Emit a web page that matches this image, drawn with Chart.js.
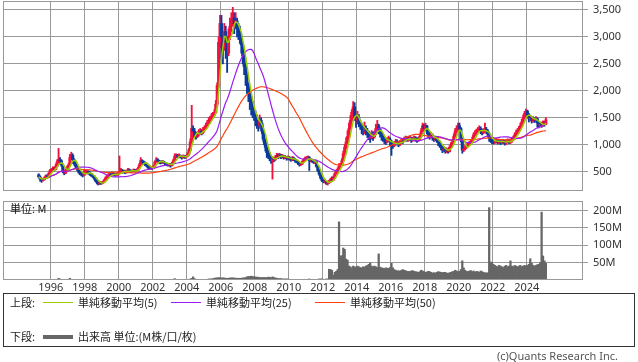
<!DOCTYPE html>
<html><head><meta charset="utf-8">
<script src="https://cdn.jsdelivr.net/npm/chart.js@4.4.1/dist/chart.umd.min.js"></script>
<style>
html,body{margin:0;padding:0;background:#fff;width:638px;height:362px;overflow:hidden;font-family:"Noto Sans CJK JP","Noto Sans",sans-serif;}
canvas{position:absolute;left:0;}
#c1{top:0;}
#c2{top:196px;}
.t{position:absolute;font-size:11px;color:#222;white-space:nowrap;line-height:11px;}
#legend{position:absolute;left:3px;top:293px;width:632px;height:54px;border:1px solid #333;box-sizing:border-box;}
.sw{position:absolute;height:0;width:30px;}
</style></head>
<body>
<canvas id="c1" width="638" height="191"></canvas>
<canvas id="c2" width="638" height="104"></canvas>
<div class="t" style="left:10px;top:203px;color:#111;">単位: M</div>
<div id="legend"></div>
<div class="t" style="left:10px;top:297px;">上段:</div>
<div class="sw" style="left:43px;top:302px;border-top:1px solid #99cc00;"></div>
<div class="t" style="left:78px;top:297px;">単純移動平均(5)</div>
<div class="sw" style="left:171px;top:302px;border-top:1px solid #9a1cf0;"></div>
<div class="t" style="left:206px;top:297px;">単純移動平均(25)</div>
<div class="sw" style="left:315px;top:302px;border-top:1px solid #ff4010;"></div>
<div class="t" style="left:350px;top:297px;">単純移動平均(50)</div>
<div class="t" style="left:10px;top:331px;">下段:</div>
<div class="sw" style="left:43px;top:335px;height:4px;background:#666;"></div>
<div class="t" style="left:78px;top:331px;">出来高 単位:(M株/口/枚)</div>
<div class="t" style="right:20px;top:350px;color:#555;font-family:'Noto Sans',sans-serif;">(c)Quants Research Inc.</div>
<script>
// ---- data (monthly, from Apr 1995) ----
const startYear = 1995, startMonth = 4;
const firstOpen = 440;
const closes = [
 400,360,340,350,380,420,410,460,520,
 530,560,540,600,680,720,700,620,500,470,530,560,
 620,760,800,720,650,600,560,500,470,450,430,470,
 480,500,470,460,430,420,380,330,300,270,290,280,
 300,330,370,400,430,450,440,460,450,430,440,460,
 500,520,490,500,480,510,530,520,500,510,520,510,
 520,560,620,700,680,660,640,630,580,560,570,560,
 600,680,720,700,680,660,690,670,650,640,620,630,
 610,650,700,780,800,780,800,780,760,790,770,780,
 820,900,1050,1300,1250,1200,1150,1200,1230,1250,1220,1280,
 1300,1350,1400,1450,1480,1520,1560,1600,1750,2100,2900,3250,
 3000,2800,3100,2900,2700,3000,3200,3300,3350,3250,3300,3150,
 3100,3000,2850,2650,2450,2300,2100,1950,1800,1700,1600,1550,
 1450,1400,1350,1450,1350,1200,1050,950,850,780,760,700,
 740,720,760,800,780,800,780,790,760,770,740,760,
 740,720,750,730,700,690,660,630,640,680,720,740,
 750,760,700,720,690,680,680,600,520,450,380,330,
 310,320,280,290,310,350,340,380,460,500,540,600,
 620,700,830,950,1050,1150,1300,1450,1600,1700,1500,1450,
 1500,1400,1350,1300,1250,1300,1250,1200,1150,1120,1180,1150,
 1200,1300,1350,1280,1200,1150,1120,1080,1050,1080,1100,1050,
 1000,980,1020,1050,1030,1000,1040,1080,1060,1100,1120,1100,
 1100,1120,1080,1100,1120,1100,1080,1100,1150,1250,1350,1300,
 1350,1250,1180,1150,1170,1130,1100,1120,1080,1050,1000,950,
 900,920,880,900,870,950,1000,1050,1150,1250,1300,1350,
 1300,1100,900,920,950,980,1000,1020,1050,1100,1180,1220,
 1250,1280,1300,1250,1220,1260,1280,1250,1200,1120,1080,1060,
 1050,1070,1080,1050,1060,1040,1070,1060,1030,1050,1070,1060,
 1070,1090,1120,1180,1220,1260,1300,1350,1420,1500,1580,1620,
 1550,1480,1500,1450,1480,1460,1480,1400,1350,1380,1360,1400,
 1380,1460
];
const highs = [
 460,420,370,380,400,440,440,480,540,
 560,590,580,640,720,930,760,720,640,520,560,600,
 650,820,860,830,740,680,620,570,520,490,470,540,
 530,530,520,500,470,450,430,390,340,310,320,310,
 320,350,400,430,460,480,470,490,480,460,470,490,
 790,560,540,530,520,530,560,550,530,530,550,540,
 540,580,650,760,720,700,680,660,640,600,600,590,
 620,700,760,740,710,700,710,700,680,670,650,650,
 650,670,730,830,830,820,830,810,800,810,800,800,
 850,930,1110,1730,1350,1300,1230,1240,1280,1300,1280,1320,
 1350,1400,1450,1500,1530,1580,1600,1650,1820,2150,3000,3400,
 3400,3100,3250,3200,3000,3150,3350,3450,3550,3450,3450,3350,
 3250,3200,3060,2900,2700,2500,2350,2150,2050,1900,1800,1700,
 1630,1550,1450,1550,1500,1400,1250,1100,1000,900,850,800,
 780,760,800,840,830,840,820,820,800,800,780,790,
 780,760,780,770,740,720,700,670,670,700,740,770,
 780,790,780,740,730,710,710,690,610,540,460,400,
 350,350,330,320,340,380,400,420,480,530,570,650,
 650,740,880,1000,1130,1260,1400,1540,1650,1800,1780,1560,
 1620,1560,1450,1400,1350,1420,1350,1300,1250,1220,1260,1240,
 1250,1380,1450,1380,1300,1230,1200,1150,1120,1130,1160,1130,
 1080,1040,1060,1100,1090,1060,1080,1120,1110,1140,1160,1150,
 1140,1160,1140,1140,1160,1150,1130,1140,1200,1300,1400,1380,
 1400,1360,1270,1220,1230,1200,1160,1160,1140,1100,1070,1020,
 970,960,940,940,920,980,1040,1100,1200,1300,1350,1400,
 1400,1320,1120,970,990,1020,1040,1060,1090,1140,1220,1260,
 1290,1320,1350,1330,1280,1300,1400,1320,1280,1230,1150,1110,
 1100,1110,1120,1100,1100,1090,1100,1100,1080,1090,1110,1100,
 1110,1130,1160,1220,1270,1300,1340,1400,1470,1550,1620,1660,
 1640,1580,1540,1520,1520,1500,1520,1500,1420,1420,1420,1440,
 1430,1500
];
const lows = [
 380,320,300,320,340,370,380,400,450,
 490,510,510,530,590,660,640,600,480,440,460,510,
 540,600,720,650,620,570,520,470,440,420,400,420,
 440,460,450,430,410,390,360,310,270,250,260,260,
 270,290,320,360,390,420,420,430,430,410,420,430,
 450,480,470,470,460,470,500,500,480,490,500,490,
 490,510,550,610,650,630,610,590,560,540,540,540,
 550,590,670,670,650,640,650,650,620,610,600,600,
 580,600,640,690,760,750,760,750,730,750,740,750,
 770,800,880,1030,1130,1130,1100,1130,1160,1190,1180,1200,
 1250,1280,1330,1380,1420,1460,1500,1540,1580,1700,2060,2800,
 2600,2500,2750,2600,2340,2650,2950,3100,3200,3060,3150,3000,
 2950,2880,2700,2500,2300,2100,1950,1800,1650,1550,1500,1450,
 1350,1300,1250,1300,1250,1100,1000,880,760,740,700,650,
 360,680,700,740,740,750,740,750,730,740,710,720,
 710,690,700,700,670,660,630,600,610,630,670,700,
 720,730,520,680,670,650,650,580,500,430,360,310,
 290,290,260,250,280,300,310,330,370,450,490,530,
 580,610,690,800,920,1020,1130,1280,1420,1550,1450,1320,
 1380,1330,1280,1200,1180,1200,1180,1130,1090,1040,1100,1080,
 1120,1180,1270,1200,1140,1080,1060,1020,1000,1030,1060,980,
 800,930,960,1000,990,960,980,1030,1020,1050,1080,1060,
 1060,1080,1040,1060,1080,1060,1040,1060,1090,1140,1240,1250,
 1270,1200,1120,1100,1120,1080,1060,1070,1040,980,950,900,
 850,870,840,850,840,860,940,980,1040,1140,1220,1280,
 1250,1050,840,870,900,930,960,980,1000,1040,1090,1160,
 1190,1220,1250,1200,1180,1200,1230,1200,1150,1060,1040,1020,
 1010,1020,1030,1010,1020,1000,1020,1020,990,1000,1030,1020,
 1020,1040,1070,1110,1160,1200,1240,1280,1330,1400,1480,1540,
 1500,1420,1440,1400,1420,1410,1420,1330,1310,1330,1320,1340,
 1340,1370
];
const volumes = [
 1,1,1,1,1,1,1,1,1,
 1,1,1,1,2,5,3,1,1,1,1,1,
 2,5,2,1,1,1,1,1,1,1,1,1,
 1,1,1,1,1,1,1,1,1,1,1,1,
 1,1,1,1,1,1,1,1,1,1,1,1,
 1,1,1,1,1,1,1,1,1,1,1,1,
 1,1,1,1,1,1,1,1,1,1,1,1,
 1,1,1,1,1,1,1,1,1,1,1,1,
 1,1,2,4,2,1,1,1,1,1,1,1,
 1,2,3,5,9,4,2,2,2,2,2,2,
 2,2,2,3,3,3,4,5,6,6,7,6,
 6,6,6,5,5,5,6,6,6,6,5,5,
 5,5,5,6,6,7,9,10,10,11,10,9,
 9,8,8,7,7,7,7,7,7,8,8,6,
 9,7,6,5,4,4,4,3,3,3,3,3,
 2,2,2,2,2,2,2,2,2,2,2,2,
 2,2,3,2,2,2,2,2,2,3,3,3,
 2,2,3,3,31,30,28,14,22,25,30,167,
 69,70,92,88,60,57,40,38,35,40,38,36,
 40,38,36,35,38,37,40,42,45,49,40,38,
 40,38,36,75,37,35,34,33,35,34,33,36,
 48,35,30,28,26,27,25,28,30,28,27,25,
 25,24,26,27,25,24,23,22,24,28,26,24,
 22,23,25,24,22,20,21,20,22,24,23,22,
 21,22,22,20,19,21,22,24,25,28,26,24,
 25,30,55,35,28,25,24,26,27,24,26,22,
 25,24,22,26,24,22,20,21,20,208,52,50,
 45,42,40,38,42,40,38,36,40,42,38,40,
 55,40,38,42,40,38,40,42,38,40,42,40,
 42,45,61,48,42,40,42,44,45,50,195,69,
 55,48
];
const yearTicks = [1996,1998,2000,2002,2004,2006,2008,2010,2012,2014,2016,2018,2020,2022,2024];
const priceTicks = [500,1000,1500,2000,2500,3000,3500];
const volumeTicks = [50,100,150,200];
const maPeriods = [5, 25, 50];

// ---- derived ----
const RED = '#f2103c', BLUE = '#0b3a9e', GRID = '#999999';
const MA_COLORS = ['#99cc00', '#9a1cf0', '#ff4010'];
const MA_WIDTHS = [1.5, 1.2, 1.2];
const xs = closes.map((_, i) => startYear + (startMonth - 1 + i + 0.5) / 12);
const opens = closes.map((c, i) => i === 0 ? firstOpen : closes[i - 1]);
const up = closes.map((c, i) => c >= opens[i]);
const candleColors = up.map(u => u ? RED : BLUE);
function sma(arr, p) {
  return arr.map((_, i) => {
    const s = Math.max(0, i - p + 1);
    let t = 0;
    for (let k = s; k <= i; k++) t += arr[k];
    return t / (i - s + 1);
  });
}
const FONT = { family: "'Noto Sans', sans-serif", size: 11 };
const noPad = s => { s.paddingTop = 0; s.paddingBottom = 0; s.paddingLeft = 0; s.paddingRight = 0; };
const frame = {
  id: 'frame',
  afterDatasetsDraw(chart) {
    const { ctx, chartArea: a } = chart;
    ctx.save();
    ctx.strokeStyle = GRID; ctx.lineWidth = 1;
    const l = Math.round(a.left), t = Math.round(a.top), r = Math.round(a.right), b = Math.round(a.bottom);
    ctx.strokeRect(l + 0.5, t + 0.5, r - l - 1, b - t - 1);
    ctx.restore();
  }
};
const XMIN = 1993.19, XMAX = 2027.31;

const maSets = maPeriods.map((p, k) => {
  const m = sma(closes, p);
  return { type: 'line', data: xs.map((x, i) => ({ x, y: m[i] })), borderColor: MA_COLORS[k],
    borderWidth: MA_WIDTHS[k], pointRadius: 0, tension: 0, order: k === 0 ? 0 : 1 };
});

new Chart(document.getElementById('c1'), {
  type: 'bar',
  data: { datasets: [
    ...maSets,
    { type: 'bar', data: xs.map((x, i) => ({ x, y: [lows[i], highs[i]] })), backgroundColor: candleColors,
      barThickness: 1.2, grouped: false, order: 3 },
    { type: 'bar', data: xs.map((x, i) => ({ x, y: [opens[i], closes[i]] })), backgroundColor: candleColors,
      barThickness: 2.4, grouped: false, order: 2 }
  ]},
  options: {
    responsive: false, animation: false, devicePixelRatio: 1, events: [],
    layout: { padding: { left: 3, top: 1, right: 0, bottom: 0 } },
    plugins: { legend: { display: false }, tooltip: { enabled: false } },
    scales: {
      x: { type: 'linear', min: XMIN, max: XMAX, offset: false,
        afterBuildTicks: s => { s.ticks = yearTicks.map(v => ({ value: v })); },
        ticks: { display: false }, grid: { color: GRID, lineWidth: 1, drawTicks: false, offset: false },
        border: { display: false }, afterFit: s => { s.height = 0; noPad(s); } },
      y: { type: 'linear', position: 'right', min: 139, max: 3667,
        afterBuildTicks: s => { s.ticks = priceTicks.map(v => ({ value: v })); },
        ticks: { font: FONT, color: '#333', padding: 5, callback: v => Number(v).toLocaleString('en-US') },
        grid: { color: GRID, lineWidth: 1, tickLength: 5 },
        border: { display: false }, afterFit: s => { s.width = 55; noPad(s); } }
    }
  },
  plugins: [frame]
});

new Chart(document.getElementById('c2'), {
  type: 'bar',
  data: { datasets: [
    { data: xs.map((x, i) => ({ x, y: volumes[i] })), backgroundColor: '#666666', barThickness: 1.6, grouped: false }
  ]},
  options: {
    responsive: false, animation: false, devicePixelRatio: 1, events: [],
    layout: { padding: { left: 3, top: 5, right: 0, bottom: 0 } },
    plugins: { legend: { display: false }, tooltip: { enabled: false } },
    scales: {
      x: { type: 'linear', min: XMIN, max: XMAX, offset: false,
        afterBuildTicks: s => { s.ticks = yearTicks.map(v => ({ value: v })); },
        ticks: { font: FONT, color: '#333', padding: 1, maxRotation: 0, autoSkip: false, callback: v => String(v) },
        grid: { color: GRID, lineWidth: 1, drawTicks: false, offset: false },
        border: { display: false }, afterFit: s => { s.height = 20; noPad(s); } },
      y: { type: 'linear', position: 'right', min: 0, max: 227,
        afterBuildTicks: s => { s.ticks = volumeTicks.map(v => ({ value: v })); },
        ticks: { font: FONT, color: '#333', padding: 5, callback: v => v + 'M' },
        grid: { color: GRID, lineWidth: 1, tickLength: 5 },
        border: { display: false }, afterFit: s => { s.width = 55; noPad(s); } }
    }
  },
  plugins: [frame]
});
</script>
</body></html>
